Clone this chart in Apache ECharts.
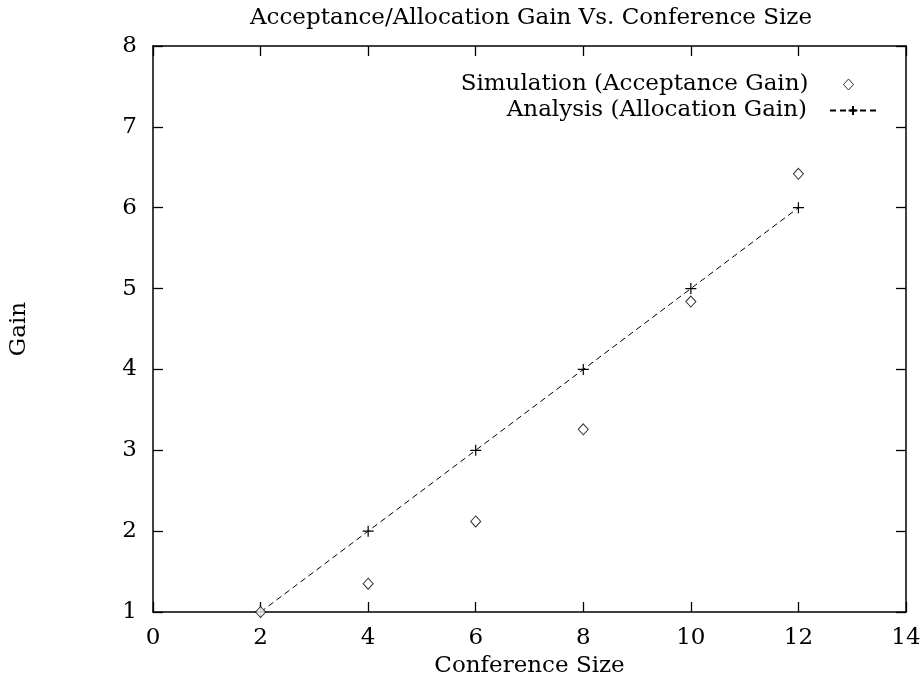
<!DOCTYPE html>
<html>
<head>
<meta charset="utf-8">
<script src="https://cdn.jsdelivr.net/npm/echarts@6/dist/echarts.min.js"></script>
<style>
  html, body { margin: 0; padding: 0; background: #fff; }
  #chart { width: 922px; height: 677px; }
</style>
</head>
<body>
<div id="chart"></div>
<script>
// Conference sizes on the x axis
var conferenceSizes = [2, 4, 6, 8, 10, 12];
// Measured acceptance gain from simulation
var simulationGain = [1.0, 1.35, 2.12, 3.26, 4.84, 6.42];
// Allocation gain predicted by analysis
var analysisGain = [1, 2, 3, 4, 5, 6];

var FONT = 'DejaVu Serif';
var FS = 23;

function pairs(xs, ys) {
  return xs.map(function (x, i) { return [x, ys[i]]; });
}

// "+" point marker drawn as two strokes
var plusPath = 'path://M0,5L10,5M5,0L5,10';

var chart = echarts.init(document.getElementById('chart'), null, { renderer: 'canvas' });

var axisCommon = {
  axisLine: { show: true, onZero: false, lineStyle: { color: '#000', width: 1.5 } },
  axisTick: { show: true, inside: true, length: 10, lineStyle: { color: '#000', width: 1.3 } },
  splitLine: { show: false },
  axisLabel: { color: '#000', fontFamily: FONT, fontSize: FS }
};

var legendText = { color: '#000', fontFamily: FONT, fontSize: FS };

chart.setOption({
  backgroundColor: '#fff',
  animation: false,
  title: {
    text: 'Acceptance/Allocation Gain Vs. Conference Size',
    left: 245,
    top: 2,
    textStyle: { color: '#000', fontFamily: FONT, fontSize: FS, fontWeight: 'normal' }
  },
  legend: [
    {
      data: ['Simulation (Acceptance Gain)'],
      orient: 'vertical',
      align: 'right',
      right: 68,
      top: 73,
      padding: 0,
      itemWidth: 10,
      itemHeight: 11,
      itemStyle: { borderWidth: 1 },
      textStyle: Object.assign({ padding: [0, 30, 0, 0] }, legendText)
    },
    {
      data: ['Analysis (Allocation Gain)'],
      orient: 'vertical',
      align: 'right',
      right: 45,
      top: 99,
      padding: 0,
      itemWidth: 46,
      itemHeight: 11,
      textStyle: Object.assign({ padding: [0, 18, 0, 0] }, legendText)
    }
  ],
  grid: { left: 153, right: 16, top: 46, bottom: 65, containLabel: false, outerBoundsMode: 'none' },
  xAxis: [
    Object.assign({}, axisCommon, {
      type: 'value', min: 0, max: 14, interval: 2, position: 'bottom',
      name: 'Conference Size', nameLocation: 'middle', nameGap: 40,
      nameTextStyle: { color: '#000', fontFamily: FONT, fontSize: FS },
      axisLabel: { color: '#000', fontFamily: FONT, fontSize: FS, margin: 15 }
    }),
    Object.assign({}, axisCommon, {
      type: 'value', min: 0, max: 14, interval: 2, position: 'top',
      axisLabel: { show: false }
    })
  ],
  yAxis: [
    Object.assign({}, axisCommon, {
      type: 'value', min: 1, max: 8, interval: 1, position: 'left',
      name: 'Gain', nameLocation: 'middle', nameGap: 122, nameRotate: 90,
      nameTextStyle: { color: '#000', fontFamily: FONT, fontSize: FS },
      axisLabel: { color: '#000', fontFamily: FONT, fontSize: FS, margin: 16 }
    }),
    Object.assign({}, axisCommon, {
      type: 'value', min: 1, max: 8, interval: 1, position: 'right',
      axisLabel: { show: false }
    })
  ],
  series: [
    {
      name: 'Simulation (Acceptance Gain)',
      type: 'scatter',
      data: pairs(conferenceSizes, simulationGain),
      symbol: 'diamond',
      symbolSize: [10, 11],
      itemStyle: { color: '#fff', borderColor: '#000', borderWidth: 1 },
      z: 3
    },
    {
      name: 'Analysis (Allocation Gain)',
      type: 'line',
      data: pairs(conferenceSizes, analysisGain),
      symbol: plusPath,
      symbolSize: 11,
      showSymbol: true,
      lineStyle: { color: '#000', width: 1, type: [6, 4] },
      itemStyle: { color: '#000', borderColor: '#000', borderWidth: 1.2 },
      z: 2
    }
  ]
});
</script>
</body>
</html>
